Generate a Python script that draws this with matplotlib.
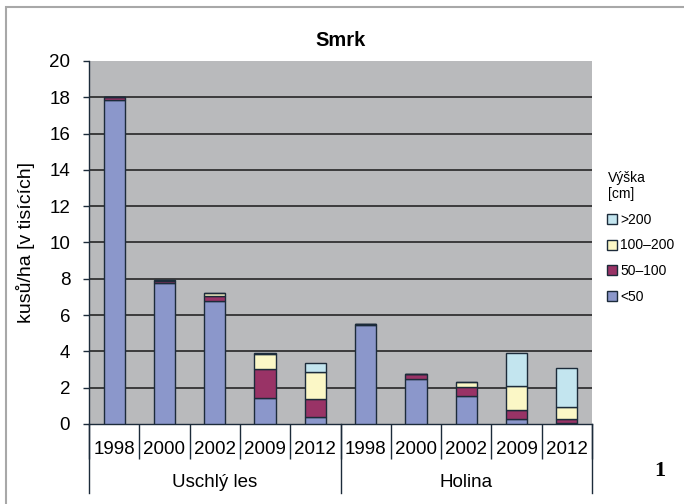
import numpy as np
import matplotlib
matplotlib.use("Agg")
import matplotlib.pyplot as plt
from matplotlib.lines import Line2D
from matplotlib.patches import Rectangle

plt.rcParams['font.family'] = ['Liberation Sans', 'DejaVu Sans']

# data (thousands of trees per ha)
years = ['1998', '2000', '2002', '2009', '2012',
         '1998', '2000', '2002', '2009', '2012']
groups = ['Uschlý les', 'Holina']
lt50 = [17.85, 7.75, 6.75, 1.42, 0.38, 5.45, 2.48, 1.56, 0.28, 0.03]
h50_100 = [0.15, 0.15, 0.30, 1.60, 0.98, 0.04, 0.25, 0.48, 0.50, 0.25]
h100_200 = [0.02, 0.04, 0.15, 0.85, 1.50, 0.01, 0.01, 0.25, 1.33, 0.68]
gt200 = [0.02, 0.02, 0.02, 0.05, 0.52, 0.01, 0.01, 0.01, 1.82, 2.15]

series = [('<50', lt50, '#8b97cb'),
          ('50–100', h50_100, '#993366'),
          ('100–200', h100_200, '#fbf7c6'),
          ('>200', gt200, '#c3e5ef')]

fig = plt.figure(figsize=(6.84, 5.04), dpi=100)
ax = fig.add_axes([89/684, 80/504, 503/684, 363/504])
ax.set_facecolor('#b9babc')

# outer frame
fig.patches.append(Rectangle((6/684, -0.1), 1.1, (497/504) + 0.1,
                             transform=fig.transFigure, fill=False,
                             edgecolor='#a8a8a8', lw=1.5))

x = np.arange(len(years))
bottom = np.zeros(len(years))
for name, vals, col in series:
    ax.bar(x, vals, 0.42, bottom=bottom, color=col, edgecolor='#1c2b3a',
           lw=1, zorder=3, label=name)
    bottom += np.array(vals)

for yv in range(2, 20, 2):
    ax.axhline(yv, color='#262626', lw=1.2, zorder=1)

ax.set_xlim(-0.5, len(years) - 0.5)
ax.set_ylim(0, 20)
ax.set_yticks(range(0, 21, 2))
ax.tick_params(axis='y', labelsize=13.5, length=4.5, width=1,
               color='#1c2b3a', pad=9)
ax.set_xticks(np.arange(-0.5, len(years), 1))
ax.set_xticklabels([])
ax.tick_params(axis='x', length=25, width=1, color='#1c2b3a')
for s in ['top', 'right']:
    ax.spines[s].set_visible(False)
for s in ['left', 'bottom']:
    ax.spines[s].set_color('#1c2b3a')
    ax.spines[s].set_linewidth(1)

tr = ax.get_xaxis_transform()
for i, yr in enumerate(years):
    ax.text(i, -0.065, yr, transform=tr, ha='center', va='center_baseline',
            fontsize=13.5)
for g, name in enumerate(groups):
    ax.text(g * 5 + 2, -0.155, name, transform=tr, ha='center',
            va='center_baseline', fontsize=13.5)
for xb in [-0.5, 4.5, 9.5]:
    ax.add_line(Line2D([xb, xb], [0, -0.19], transform=tr, color='#1c2b3a',
                       lw=1, clip_on=False))

ax.set_ylabel('kusů/ha [v tisících]', fontsize=14, labelpad=10)
ax.set_title('Smrk', fontsize=14.5, fontweight='bold', pad=11)

handles = [Line2D([], [], marker='s', ls='none', markersize=6.5,
                  markerfacecolor=col, markeredgecolor='#1c2b3a',
                  markeredgewidth=1) for _, _, col in series[::-1]]
labels = [name for name, _, _ in series[::-1]]
leg = fig.legend(handles, labels, title='Výška\n[cm]', loc='upper left',
                 bbox_to_anchor=(602/684, 1 - 165/504), frameon=False,
                 fontsize=10, title_fontsize=10, handlelength=0.7,
                 handletextpad=0.2, labelspacing=0.85, alignment='left',
                 borderaxespad=0)

fig.text(660/684, 1 - 471/504, '1', fontsize=16, fontweight='bold',
         family='Liberation Serif', ha='center', va='center')

fig.savefig('out.png', dpi=100)
